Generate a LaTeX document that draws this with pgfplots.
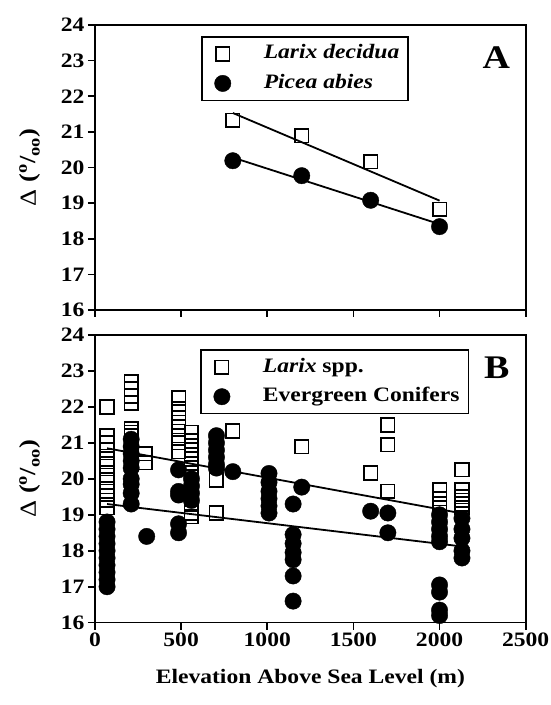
\documentclass[border=0pt]{standalone}
\usepackage{fontspec}
\setmainfont{Liberation Serif}[FakeStretch=1.15]
\usepackage{pgfplots}
\pgfplotsset{compat=1.18}

\newcommand\chartfont{\fontsize{20.5}{24}\selectfont\bfseries}
\newcommand\labelfont{\fontsize{23}{26}\selectfont\bfseries}

\pgfplotsset{
  panel/.style={
    scale only axis, width=430.7pt,
    xmin=0, xmax=2500, ymin=16, ymax=24,
    xtick={0,500,...,2500}, ytick={16,...,24},
    tick align=outside, major tick length=7pt,
    xtick pos=bottom, ytick pos=left,
    axis line style={line width=1.6pt},
    every tick/.style={line width=1.6pt, black},
    tick label style={font=\chartfont},
    /pgf/number format/assume math mode=true,
    /pgf/number format/set thousands separator={},
    ylabel={{\mdseries Δ} (\textsuperscript{o}/\textsubscript{oo})},
    ylabel style={font=\labelfont, at={(axis description cs:-0.151,0.5)}, anchor=center},
    clip=false,
    legend cell align=left,
    legend image code/.code={\path[draw=none,fill=none] (-12pt,-9pt) rectangle (41pt,9pt);
      \draw[##1] plot coordinates {(0pt,0pt)};},
    legend style={draw=black, line width=1.6pt, font=\chartfont,
      inner xsep=9pt, inner ysep=8pt, row sep=11.5pt,
      nodes={inner xsep=0pt, inner ysep=0pt, text height=14pt, text depth=4pt}},
  },
  larix/.style={only marks, mark=square, mark size=6.8pt,
    mark options={line width=1.6pt, solid, draw=black}},
  ever/.style={only marks, mark=*, mark size=8.2pt,
    mark options={line width=0.4pt, solid, draw=black, fill=black}},
  fit/.style={black, line width=1.8pt, no marks, forget plot},
}

\begin{document}
\begin{tikzpicture}
\useasboundingbox (0,0) rectangle (550pt,705pt);

% panel A
\begin{axis}[panel, at={(95pt,395pt)}, anchor=south west, height=285pt,
  xticklabels={},
  legend style={at={(axis description cs:0.246,0.961)}, anchor=north west}]
\addplot[larix] coordinates {(800,21.33) (1200,20.89) (1600,20.16) (2000,18.83)};
\addlegendentry{\textit{Larix decidua}}
\addplot[ever] coordinates {(800,20.19) (1200,19.77) (1600,19.08) (2000,18.34)};
\addlegendentry{\textit{Picea abies}}
\addplot[fit] coordinates {(800,21.53) (2000,19.07)};
\addplot[fit] coordinates {(800,20.28) (2000,18.41)};
\node[font=\fontsize{33}{36}\selectfont\bfseries] at (axis cs:2330,23.08) {A};
\end{axis}

% panel B
\begin{axis}[panel, at={(95pt,82.3pt)}, anchor=south west, height=287.7pt,
  xlabel={Elevation Above Sea Level (m)},
  xlabel style={font=\chartfont, at={(axis description cs:0.5,0)}, anchor=center, yshift=-56pt},
  legend style={at={(axis description cs:0.244,0.950)}, anchor=north west}]
\addplot[larix] coordinates {
  (70,22.0) (70,21.2) (70,21.0) (70,20.8) (70,20.55) (70,20.35) (70,20.1) (70,19.9) (70,19.65) (70,19.4) (70,19.2)
  (210,22.7) (210,22.5) (210,22.3) (210,22.1) (210,21.4) (210,21.3) (210,21.2)
  (290,20.7) (290,20.45)
  (485,22.25) (485,21.95) (485,21.7) (485,21.45) (485,21.2) (485,21.0) (485,20.75)
  (560,21.3) (560,21.05) (560,20.8) (560,20.55) (560,20.3) (560,20.05) (560,19.8) (560,19.55) (560,19.3) (560,19.05) (560,18.95)
  (705,21.1) (705,19.97) (705,19.05)
  (800,21.33) (1200,20.89) (1600,20.16)
  (1700,21.5) (1700,20.95) (1700,19.65)
  (2000,19.7) (2000,19.45) (2000,19.3) (2000,19.2) (2000,18.83)
  (2130,20.25) (2130,19.7) (2130,19.5) (2130,19.4) (2130,19.3) (2130,19.2)
};
\addlegendentry{\textit{Larix} spp.}
\addplot[ever] coordinates {
  (70,18.8) (70,18.6) (70,18.4) (70,18.2) (70,18.0) (70,17.8) (70,17.6) (70,17.4) (70,17.2) (70,17.0)
  (210,21.1) (210,20.9) (210,20.7) (210,20.5) (210,20.3) (210,20.0) (210,19.85) (210,19.6) (210,19.3)
  (300,18.4)
  (485,20.25) (485,19.65) (485,19.55) (485,18.75) (485,18.5)
  (560,20.0) (560,19.8) (560,19.6) (560,19.4)
  (705,21.2) (705,21.0) (705,20.8) (705,20.6) (705,20.4) (705,20.3)
  (800,20.2)
  (1010,20.15) (1010,19.9) (1010,19.65) (1010,19.45) (1010,19.25) (1010,19.05)
  (1150,19.3) (1150,18.45) (1150,18.2) (1150,17.95) (1150,17.75) (1150,17.3) (1150,16.6)
  (1200,19.77) (1600,19.1)
  (1700,19.05) (1700,18.5)
  (2000,19.0) (2000,18.8) (2000,18.6) (2000,18.4) (2000,18.25) (2000,17.05) (2000,16.85) (2000,16.35) (2000,16.2)
  (2130,18.9) (2130,18.6) (2130,18.35) (2130,18.0) (2130,17.8)
};
\addlegendentry{Evergreen Conifers}
\addplot[fit] coordinates {(70,20.85) (2130,19.04)};
\addplot[fit] coordinates {(70,19.3) (2130,18.12)};
\node[font=\fontsize{33}{36}\selectfont\bfseries] at (axis cs:2332,23.08) {B};
\end{axis}
\end{tikzpicture}
\end{document}
